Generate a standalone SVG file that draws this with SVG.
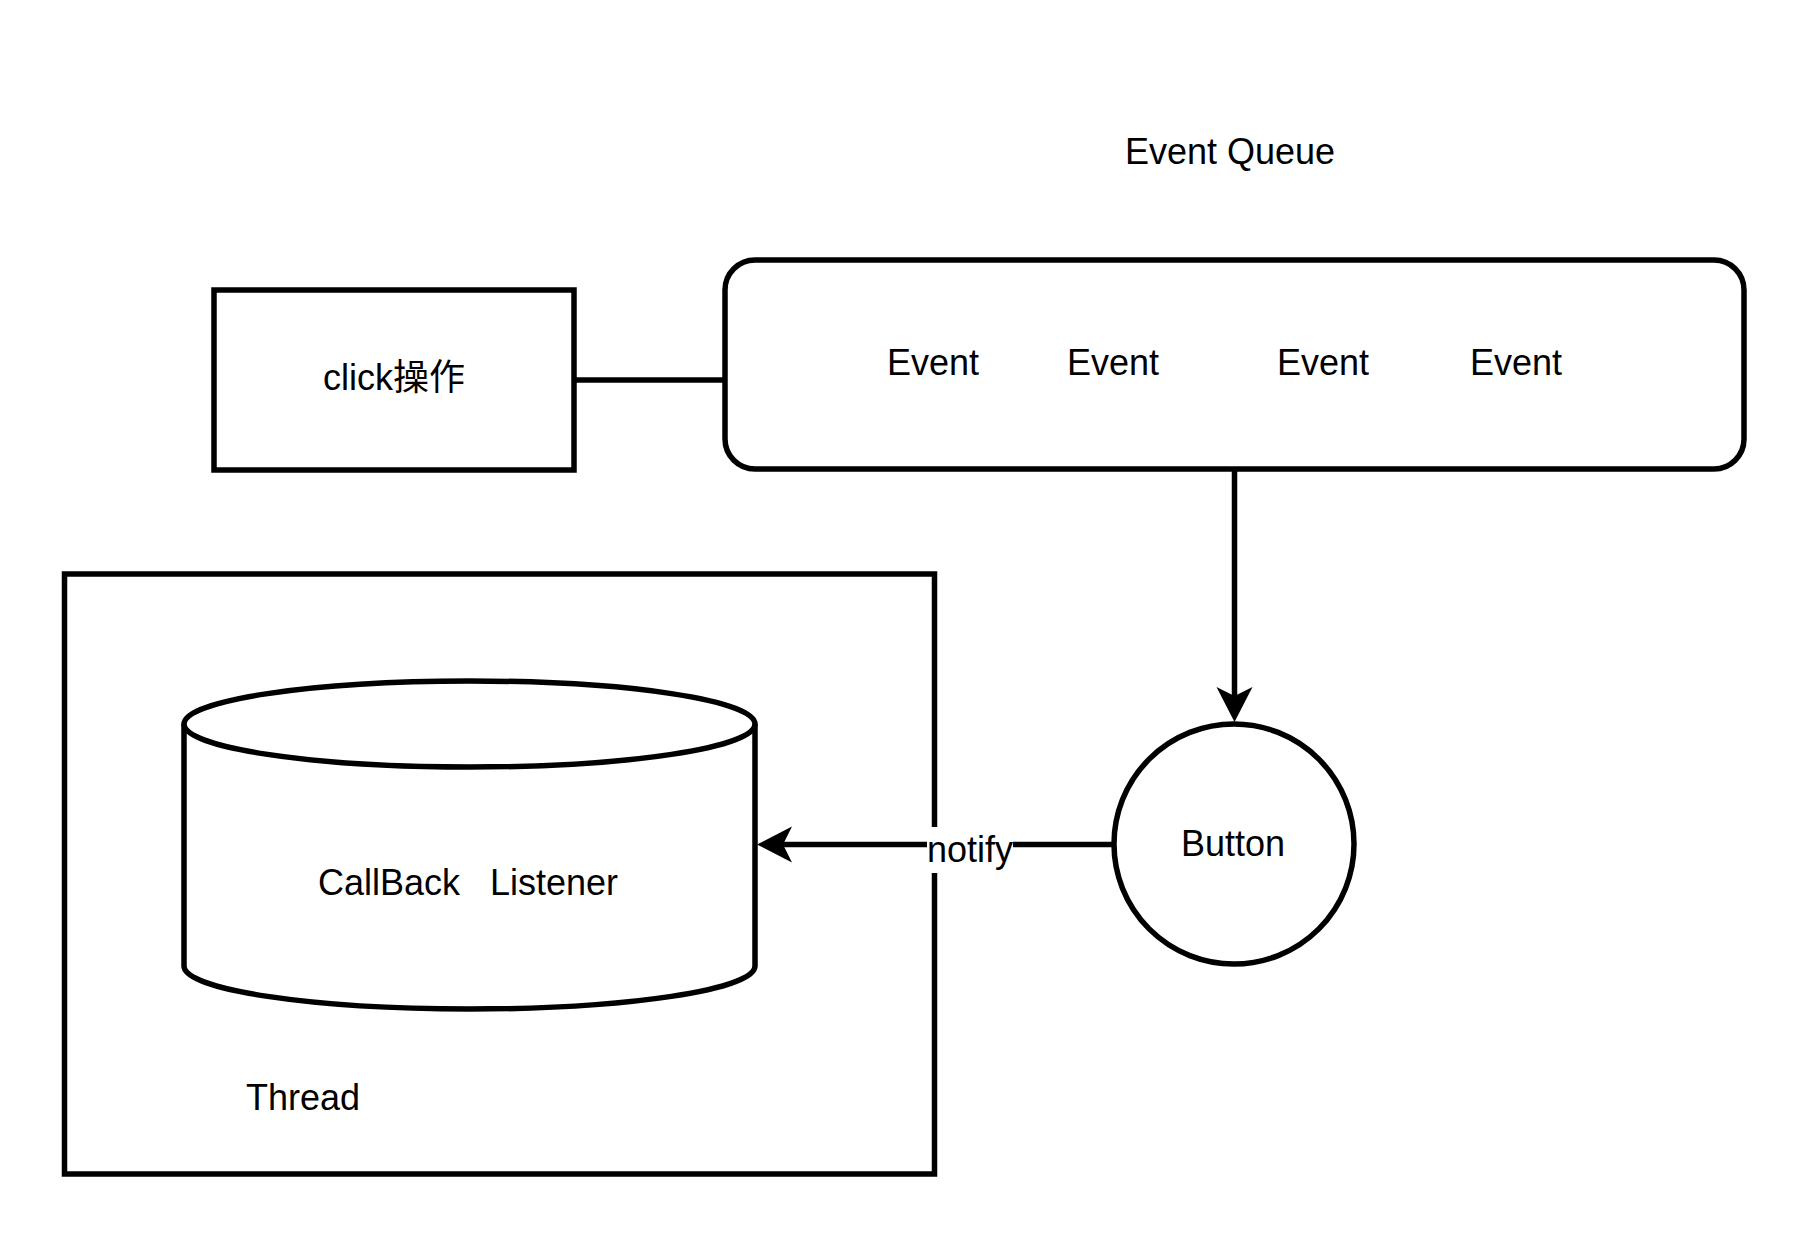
<svg xmlns="http://www.w3.org/2000/svg" width="1806" height="1254" viewBox="0 0 1806 1254">
<style>
.s{fill:#fff;stroke:#000;stroke-width:5.5}
.t{font-family:"Liberation Sans",Arial,"Noto Sans CJK SC",sans-serif;font-size:36px;fill:#000}
.c{text-anchor:middle}
.e{fill:none;stroke:#000;stroke-width:5.5}
</style>
<defs>
<marker id="arr" markerUnits="userSpaceOnUse" viewBox="0 0 35 36" markerWidth="35" markerHeight="36" refX="9" refY="18" orient="auto" overflow="visible">
<path d="M0,0 L35,18 L0,36 L9,18 Z" fill="#000"/>
</marker>
</defs>
<rect width="1806" height="1254" fill="#fff"/>
<g id="event-queue-label"><text class="t c" x="1230" y="164">Event Queue</text></g>
<g id="click"><rect class="s" x="214" y="290" width="360" height="180"/><text class="t c" x="394" y="390">click操作</text></g>
<g id="event-queue"><rect class="s" x="725" y="260" width="1019" height="209" rx="30" ry="30"/>
<text class="t c" x="933" y="375">Event</text>
<text class="t c" x="1113" y="375">Event</text>
<text class="t c" x="1323" y="375">Event</text>
<text class="t c" x="1516" y="375">Event</text></g>
<g id="thread"><rect class="s" x="64.5" y="574" width="870" height="600"/><text class="t" x="246" y="1110">Thread</text></g>
<g id="callback"><path class="s" d="M184,724 A285.5,43 0 0 1 755,724 L755,966 A285.5,43 0 0 1 184,966 Z"/><path class="e" d="M184,724 A285.5,43 0 0 0 755,724"/><text class="t c" x="468" y="895" xml:space="preserve">CallBack   Listener</text></g>
<g id="button"><circle class="s" cx="1234" cy="844" r="120"/><text class="t c" x="1233" y="856">Button</text></g>
<g id="connectors">
<path class="e" d="M574,380 L725,380"/>
<path class="e" d="M1234.5,469 L1234.5,696" marker-end="url(#arr)"/>
<path class="e" d="M1114,844.5 L783,844.5" marker-end="url(#arr)"/>
<rect x="927" y="827" width="86" height="46" fill="#fff"/>
<text class="t c" x="970" y="862">notify</text>
</g>
</svg>
